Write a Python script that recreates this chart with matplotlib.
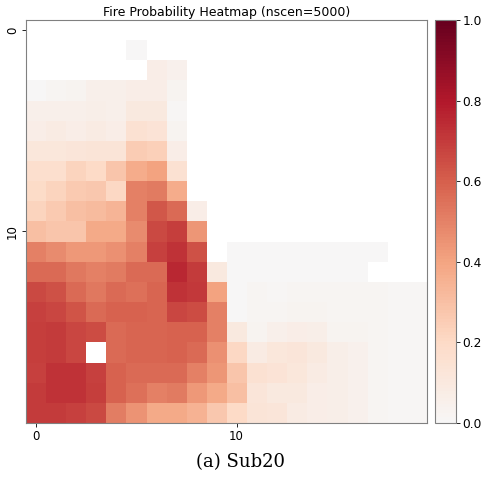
import numpy as np
import matplotlib
matplotlib.use("Agg")
import matplotlib.pyplot as plt
from matplotlib.colors import LinearSegmentedColormap

nan = np.nan

# burn probability per grid cell (row 0 at top), NaN = not simulated
prob_rows = [
    [nan] * 20,
    [nan, nan, nan, nan, nan, 0.0] + [nan] * 14,
    [nan, nan, nan, nan, nan, nan, 0.07, 0.04] + [nan] * 12,
    [0.0, 0.02, 0.03, 0.05, 0.05, 0.07, 0.07, 0.03] + [nan] * 12,
    [0.05, 0.05, 0.05, 0.06, 0.05, 0.10, 0.10, 0.01] + [nan] * 12,
    [0.07, 0.08, 0.07, 0.08, 0.07, 0.15, 0.14, 0.03] + [nan] * 12,
    [0.11, 0.11, 0.12, 0.13, 0.13, 0.25, 0.24, 0.07] + [nan] * 12,
    [0.17, 0.17, 0.22, 0.20, 0.28, 0.37, 0.40, 0.15] + [nan] * 12,
    [0.19, 0.22, 0.26, 0.27, 0.21, 0.50, 0.52, 0.37] + [nan] * 12,
    [0.22, 0.26, 0.30, 0.32, 0.34, 0.50, 0.62, 0.57, 0.07] + [nan] * 11,
    [0.30, 0.28, 0.28, 0.38, 0.38, 0.47, 0.66, 0.69, 0.44] + [nan] * 11,
    [0.50, 0.47, 0.43, 0.43, 0.46, 0.50, 0.68, 0.72, 0.64, nan,
     0.0, 0.0, 0.0, 0.0, 0.0, 0.0, 0.0, 0.0, nan, nan],
    [0.57, 0.57, 0.53, 0.50, 0.52, 0.57, 0.57, 0.75, 0.70, 0.10,
     0.0, 0.0, 0.0, 0.0, 0.0, 0.0, 0.0, nan, nan, nan],
    [0.66, 0.64, 0.57, 0.53, 0.57, 0.55, 0.58, 0.72, 0.71, 0.40,
     0.0, 0.02, 0.01, 0.02, 0.02, 0.02, 0.02, 0.02, 0.01, 0.01],
    [0.68, 0.67, 0.63, 0.57, 0.59, 0.59, 0.58, 0.67, 0.65, 0.50,
     0.0, 0.02, 0.02, 0.03, 0.03, 0.02, 0.02, 0.02, 0.01, 0.01],
    [0.69, 0.70, 0.67, 0.65, 0.57, 0.58, 0.58, 0.59, 0.59, 0.50,
     0.10, 0.03, 0.05, 0.07, 0.06, 0.03, 0.03, 0.02, 0.01, 0.01],
    [0.69, 0.70, 0.67, nan, 0.57, 0.58, 0.58, 0.59, 0.57, 0.46,
     0.21, 0.08, 0.11, 0.12, 0.10, 0.06, 0.04, 0.02, 0.01, 0.01],
    [0.68, 0.72, 0.72, 0.68, 0.59, 0.57, 0.57, 0.57, 0.50, 0.44,
     0.28, 0.15, 0.14, 0.11, 0.08, 0.06, 0.04, 0.02, 0.01, 0.01],
    [0.70, 0.72, 0.72, 0.69, 0.59, 0.55, 0.50, 0.52, 0.43, 0.38,
     0.30, 0.12, 0.10, 0.10, 0.07, 0.06, 0.04, 0.02, 0.01, 0.01],
    [0.70, 0.70, 0.68, 0.66, 0.51, 0.45, 0.38, 0.38, 0.35, 0.27,
     0.20, 0.13, 0.12, 0.08, 0.07, 0.06, 0.04, 0.02, 0.01, 0.01],
]
n_scen = 5000
tick_pos = [0, 10]
cbar_ticks = [0.0, 0.2, 0.4, 0.6, 0.8, 1.0]

grid = np.ma.masked_invalid(np.array(prob_rows, dtype=float))

# red half of RdBu_r: light grey at 0, dark red at 1
cmap = LinearSegmentedColormap.from_list(
    "reds_half", plt.cm.RdBu_r(np.linspace(0.5, 1.0, 256)))
cmap.set_bad("white")

fig = plt.figure(figsize=(4.82, 4.86), dpi=100)
ax = fig.add_axes([0.054, 0.130, 0.832, 0.829])
cax = fig.add_axes([0.9025, 0.130, 0.0436, 0.829])

im = ax.imshow(grid, cmap=cmap, vmin=0, vmax=1, aspect="auto",
               interpolation="nearest")
ax.set_title(f"Fire Probability Heatmap (nscen={n_scen})", fontsize=9, pad=3)
ax.set_xticks(tick_pos)
ax.set_yticks(tick_pos)
ax.tick_params(labelsize=8.5, length=3, width=0.6, pad=2)
for lbl in ax.get_yticklabels():
    lbl.set_rotation(90)
    lbl.set_va("center")
for s in ax.spines.values():
    s.set_edgecolor("0.5")

cb = fig.colorbar(im, cax=cax, ticks=cbar_ticks)
cb.ax.tick_params(labelsize=8.8, length=3, width=0.6, pad=1.5)
cb.outline.set_edgecolor("0.5")

fig.text(0.5, 1 - 462 / 486, "(a) Sub20", ha="center", va="center",
         family="DejaVu Serif", fontsize=13)

fig.savefig("out.png", dpi=100)
